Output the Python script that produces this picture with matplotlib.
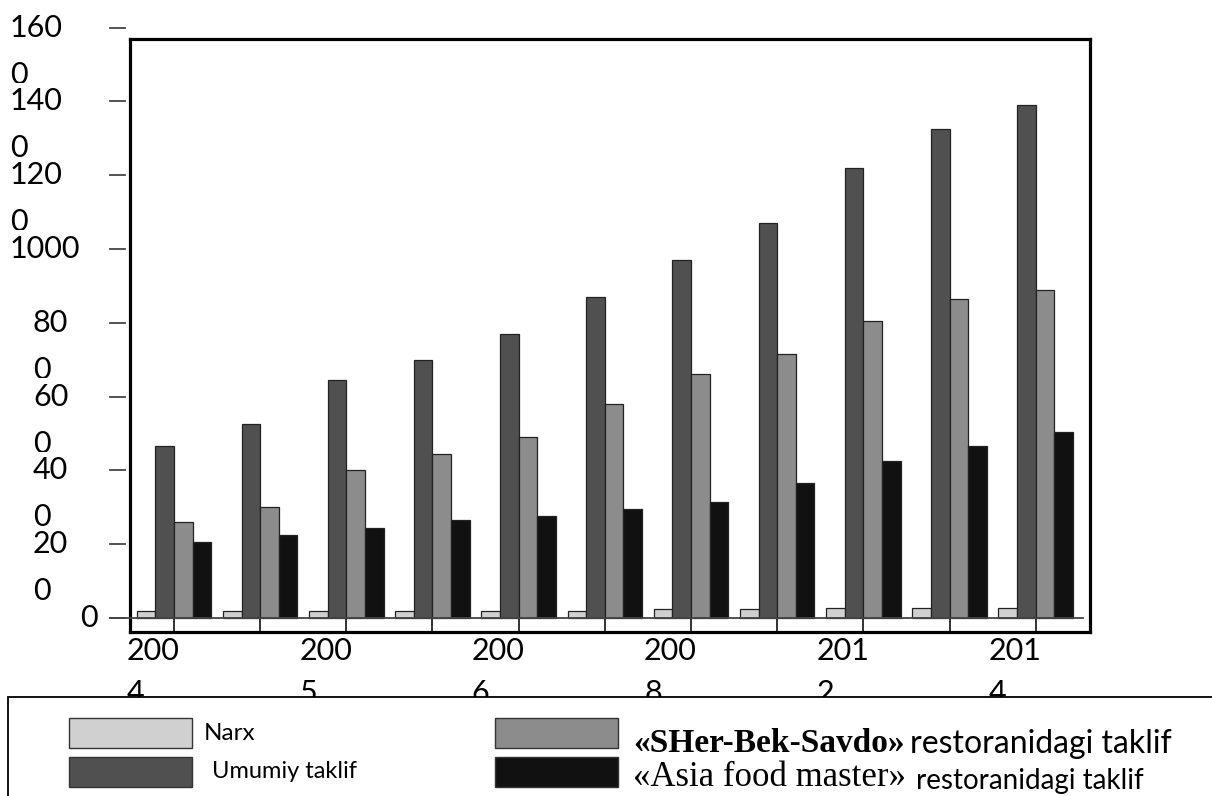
import matplotlib
matplotlib.use('Agg')
import matplotlib.pyplot as plt
import matplotlib.transforms as mtrans
from matplotlib.patches import Rectangle
import numpy as np

plt.rcParams['font.family'] = ['Lato', 'DejaVu Sans']

# ---- data ----
years = ['2004', '2005', '2006', '2007', '2008', '2009', '2010', '2011', '2012', '2013', '2014']
narx = [18, 18, 18, 20, 20, 20, 23, 23, 27, 27, 27]
umumiy = [465, 525, 645, 700, 770, 870, 970, 1070, 1220, 1325, 1390]
sherbek = [260, 300, 400, 445, 490, 580, 660, 715, 805, 865, 890]
asia = [205, 225, 245, 265, 275, 295, 315, 365, 425, 465, 505]

ytick_vals = [0, 200, 400, 600, 800, 1000, 1200, 1400, 1600]
ytick_text = ['0', '20\n0', '40\n0', '60\n0', '80\n0', '1000', '120\n0', '140\n0', '160\n0']
xlabel_idx = [0, 2, 4, 6, 8, 10]
xlabel_text = ['200\n4', '200\n5', '200\n6', '200\n8', '201\n2', '201\n4']

series = [narx, umumiy, sherbek, asia]
names = ['Narx', 'Umumiy taklif', '«SHer-Bek-Savdo»', '«Asia food master»']
suffix = 'restoranidagi taklif'
colors = ['#d0d0d0', '#505050', '#8c8c8c', '#111111']

W, H = 1212, 796
fig = plt.figure(figsize=(W / 100, H / 100), dpi=100)
ax = fig.add_axes([130 / W, 1 - 632 / H, 960 / W, (632 - 39) / H])

x = np.arange(len(years))
bw = 0.216
for k, (vals, c) in enumerate(zip(series, colors)):
    ax.bar(x + (k - 1.5) * bw, vals, width=bw, color=c, edgecolor='#222222',
           linewidth=0.9, zorder=3)

ax.set_xlim(-0.51, 10.63)
ax.set_ylim(-38, 1569)
ax.set_xticks([])
ax.set_yticks([])
for s in ax.spines.values():
    s.set_linewidth(2.3)
    s.set_color('black')

# category ticks below the zero line
ax.vlines(x, -38, 0, color='#222222', lw=1.3, zorder=2)

def px(v):
    return v / W

ty = mtrans.blended_transform_factory(fig.transFigure, ax.transData)
# zero line + y ticks outside the frame
ax.plot([px(110), px(1083)], [0, 0], color='#444444', lw=1.3, transform=ty,
        clip_on=False, zorder=4)
for v in ytick_vals:
    ax.plot([px(110), px(125)], [v, v], color='#444444', lw=1.3, transform=ty,
            clip_on=False)

# y labels, each line placed separately; next label hides the tail of previous
fs = 22
line_gap = mtrans.ScaledTranslation(0, -47 / 100, fig.dpi_scale_trans)
n = len(ytick_vals)
for i, (v, t) in enumerate(zip(ytick_vals, ytick_text)):
    parts = t.split('\n')
    if len(parts) > 1:
        xl = 10 if len(parts[0]) > 2 else 33
    elif len(t) > 1:
        xl = 10
    else:
        xl = 80
    z = 10 + 2 * (n - i)
    fig.text(px(xl), v, parts[0], transform=ty, ha='left', va='center',
             fontsize=fs, zorder=z + 1,
             bbox=dict(boxstyle='square,pad=0.15', fc='white', ec='none'))
    if len(parts) > 1:
        fig.text(px(xl), v, parts[1], transform=ty + line_gap, ha='left',
                 va='center', fontsize=fs, zorder=z)

# x labels
tx = mtrans.blended_transform_factory(ax.transData, fig.transFigure)
shift = mtrans.ScaledTranslation(-47 / 100, 0, fig.dpi_scale_trans)
for i, t in zip(xlabel_idx, xlabel_text):
    l1, l2 = t.split('\n')
    fig.text(i, 1 - 651 / H, l1, transform=tx + shift, ha='left', va='center',
             fontsize=fs)
    fig.text(i, 1 - 693 / H, l2, transform=tx + shift, ha='left', va='center',
             fontsize=fs)

# legend box
fig.patches.append(Rectangle((px(8), 1 - 820 / H), px(1220), 123 / H,
                             transform=fig.transFigure, fc='white', ec='black',
                             lw=1.3, zorder=50))
boxes = [(69, 718), (69, 757), (495, 718), (495, 757)]
for (bx, by), c in zip(boxes, colors):
    fig.patches.append(Rectangle((px(bx), 1 - (by + 30) / H), px(123),
                                 30 / H, transform=fig.transFigure, fc=c,
                                 ec='#333333', lw=1, zorder=51))
fig.text(px(204), 1 - 733 / H, names[0], fontsize=17.5, va='center', zorder=52)
fig.text(px(212), 1 - 772 / H, names[1], fontsize=17, va='center', zorder=52)
t = fig.text(px(633), 1 - 744 / H, names[2], fontsize=24, va='center', zorder=52,
             family='Liberation Serif', weight='bold')
fig.canvas.draw()
e = t.get_window_extent()
fig.text(e.x1 / W + px(6), 1 - 744 / H, suffix, fontsize=23,
         va='center', zorder=52)
t = fig.text(px(633), 1 - 777 / H, names[3], fontsize=25, va='center', zorder=52,
             family='Liberation Serif')
fig.canvas.draw()
e = t.get_window_extent()
fig.text(e.x1 / W + px(10), 1 - 781 / H, suffix, fontsize=20,
         va='center', zorder=52)

fig.savefig('out.png', dpi=100)
